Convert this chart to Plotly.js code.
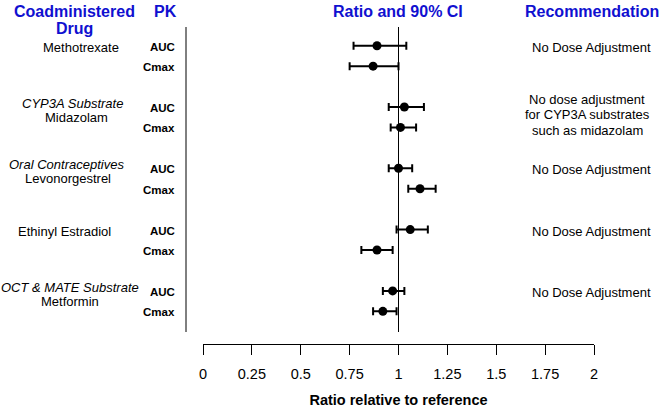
<!DOCTYPE html>
<html>
<head>
<meta charset="utf-8">
<script src="https://cdn.plot.ly/plotly-3.0.1.min.js"></script>
<style>html,body{margin:0;padding:0;background:#fff;}#chart{width:662px;height:409px;}</style>
</head>
<body>
<div id="chart"></div>
<script>
// ---- data ----
var groupCategory = ["", "CYP3A Substrate", "Oral Contraceptives", "", "OCT & MATE Substrate"];
var groupDrug = ["Methotrexate", "Midazolam", "Levonorgestrel", "Ethinyl Estradiol", "Metformin"];
var groupRecommendation = [
  ["No Dose Adjustment"],
  ["No dose adjustment", "for CYP3A substrates", "such as midazolam"],
  ["No Dose Adjustment"],
  ["No Dose Adjustment"],
  ["No Dose Adjustment"]
];
var pkParams = ["AUC", "Cmax"];
var ratioAUC  = [0.89, 1.03, 1.00, 1.06, 0.97];
var loAUC     = [0.77, 0.95, 0.95, 0.99, 0.92];
var hiAUC     = [1.04, 1.13, 1.07, 1.15, 1.03];
var ratioCmax = [0.87, 1.01, 1.11, 0.89, 0.92];
var loCmax    = [0.75, 0.96, 1.05, 0.81, 0.87];
var hiCmax    = [1.00, 1.09, 1.19, 0.97, 0.99];
var xTicks = [0, 0.25, 0.5, 0.75, 1, 1.25, 1.5, 1.75, 2];
var xTickText = ["0", "0.25", "0.5", "0.75", "1", "1.25", "1.5", "1.75", "2"];

// ---- layout helpers ----
var W = 662, H = 409;
var M = {l: 203, r: 68, t: 20, b: 65};
var plotW = W - M.l - M.r, plotH = H - M.t - M.b;
function px(xp) { return (xp - M.l) / plotW; }
function py(yp) { return (H - M.b - yp) / plotH; }
var FONT = "Liberation Sans, Arial, sans-serif";
var BLUE = "#1010d0";

// build points
var xs = [], ys = [], ep = [], em = [];
for (var g = 0; g < groupDrug.length; g++) {
  var rA = g * 3, rC = g * 3 + 1;
  xs.push(ratioAUC[g]); ys.push(rA); ep.push(hiAUC[g] - ratioAUC[g]); em.push(ratioAUC[g] - loAUC[g]);
  xs.push(ratioCmax[g]); ys.push(rC); ep.push(hiCmax[g] - ratioCmax[g]); em.push(ratioCmax[g] - loCmax[g]);
}

var trace = {
  type: "scatter", mode: "markers", x: xs, y: ys,
  marker: {color: "#000", size: 9, symbol: "circle"},
  error_x: {type: "data", symmetric: false, array: ep, arrayminus: em,
            color: "#000", thickness: 2, width: 4},
  cliponaxis: false, hoverinfo: "skip"
};

var ann = [];
function addText(txt, xpx, y, yref, size, opts) {
  opts = opts || {};
  ann.push({
    text: txt, xref: "paper", x: px(xpx), yref: yref, y: y,
    xanchor: opts.xanchor || "center", yanchor: "middle", showarrow: false,
    font: {family: FONT, size: size, color: opts.color || "#000", weight: opts.weight || "normal"}
  });
}
// headers
addText("Coadministered", 74, py(12), "paper", 16, {color: BLUE, weight: "bold"});
addText("Drug", 74, py(28), "paper", 16, {color: BLUE, weight: "bold"});
addText("PK", 165, py(12), "paper", 16, {color: BLUE, weight: "bold"});
addText("Ratio and 90% CI", 398, py(12), "paper", 16, {color: BLUE, weight: "bold"});
addText("Recommendation", 592, py(12), "paper", 16, {color: BLUE, weight: "bold"});

var drugX = [81, 76, 68, 64, 70];
var catX = [72, 72, 66, 64, 70];
for (var g = 0; g < groupDrug.length; g++) {
  var rA = g * 3;
  if (groupCategory[g]) {
    addText("<i>" + groupCategory[g] + "</i>", catX[g], rA - 0.17, "y", 13);
    addText(groupDrug[g], drugX[g], rA + 0.52, "y", 13);
  } else {
    addText(groupDrug[g], drugX[g], rA + 0.1, "y", 13);
  }
  for (var k = 0; k < pkParams.length; k++) {
    addText("<b>" + pkParams[k] + "</b>", 177, rA + k + 0.05, "y", 11.5, {xanchor: "right"});
  }
  var rec = groupRecommendation[g];
  if (rec.length === 1) {
    addText(rec[0], 591, rA + 0.08, "y", 13);
  } else {
    for (var j = 0; j < rec.length; j++) {
      addText(rec[j], 587, rA - 0.38 + j * 0.76, "y", 13);
    }
  }
}

var layout = {
  width: W, height: H,
  margin: M,
  paper_bgcolor: "#fff", plot_bgcolor: "#fff",
  showlegend: false,
  font: {family: FONT, color: "#000"},
  xaxis: {
    range: [0, 2], tickvals: xTicks, ticktext: xTickText,
    showline: true, linecolor: "#000", linewidth: 1,
    ticks: "outside", ticklen: 10, tickwidth: 1, tickcolor: "#000",
    ticklabelstandoff: 7,
    showgrid: false, zeroline: false, fixedrange: true,
    tickfont: {family: FONT, size: 14.5, color: "#000"},
    title: {text: "Ratio relative to reference", font: {family: FONT, size: 14.5, color: "#000", weight: "bold"}, standoff: 13}
  },
  yaxis: {range: [14.60, -1.258], visible: false, showgrid: false, zeroline: false, fixedrange: true},
  shapes: [
    {type: "line", xref: "paper", yref: "paper", x0: px(186), x1: px(186), y0: py(27), y1: py(332), line: {color: "#000", width: 1}},
    {type: "line", xref: "paper", yref: "paper", x0: 0.5, x1: 0.5, y0: py(27), y1: py(332), line: {color: "#000", width: 1}}
  ],
  annotations: ann
};

Plotly.newPlot("chart", [trace], layout, {displayModeBar: false, staticPlot: true});
</script>
</body>
</html>
